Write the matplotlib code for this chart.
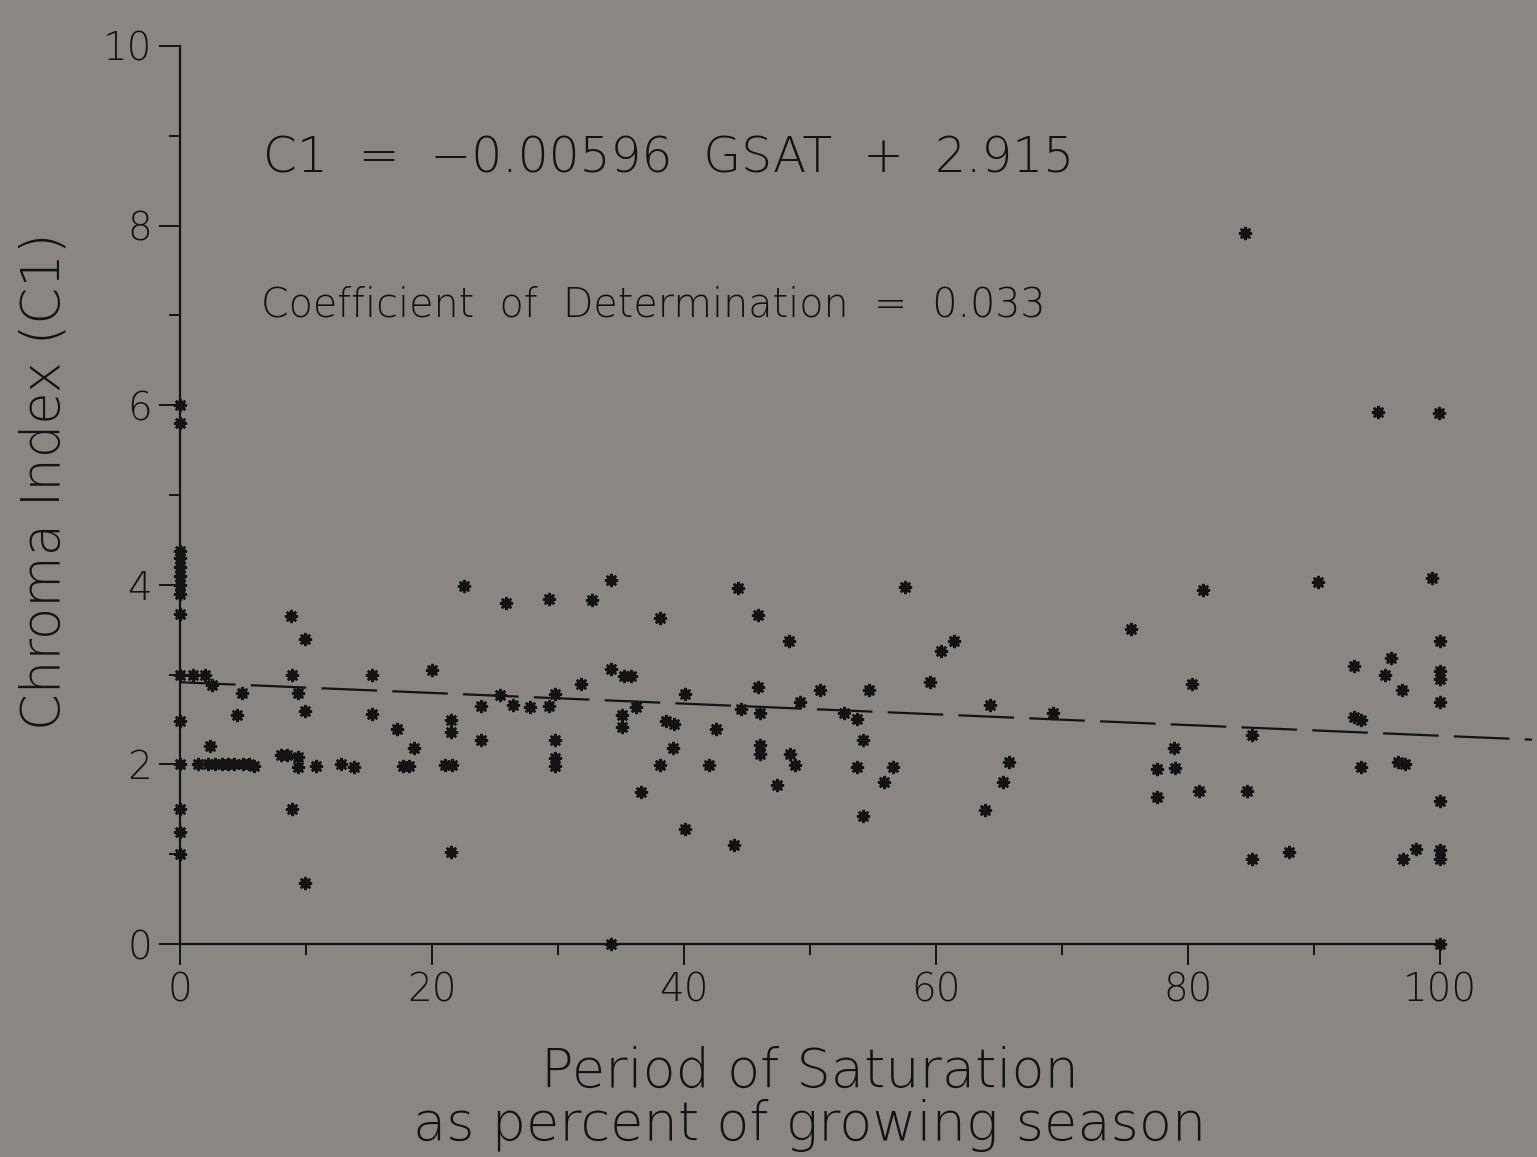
import numpy as np
import matplotlib
matplotlib.use("Agg")
import matplotlib.pyplot as plt
from matplotlib.ticker import MultipleLocator

# period of saturation (% of growing season) vs chroma index C1
gsat = [
    0, 0, 0, 0, 0, 0, 0, 0, 0, 0, 0, 0, 0, 0, 0,
    1.0, 2.0, 2.5, 4.9, 4.5, 2.4,
    1.4, 2.2, 2.8, 3.3, 3.8, 4.3, 5.0, 5.5, 5.9,
    8.0, 8.5, 8.8, 9.9, 8.9, 9.4, 9.9, 9.4, 9.4, 10.8, 12.8, 13.8, 8.9, 9.9, 15.2, 15.2,
    17.2, 18.6, 17.7, 18.2, 20.0, 21.0, 21.6, 21.5, 21.5, 21.5, 22.5, 23.9, 23.9, 25.4,
    25.9, 26.4, 27.8, 29.3, 29.3, 29.8, 29.8, 29.8, 29.8,
    31.8, 32.7, 34.2, 34.2, 35.2, 35.8, 36.2, 35.1, 35.1, 36.6, 38.1, 38.6, 39.2, 39.1,
    38.1, 40.1, 40.1, 34.2,
    42.0, 42.5, 44.0, 44.3, 44.5, 45.9, 45.9, 46.0, 46.0, 46.0, 47.4, 48.3, 48.4, 48.8,
    49.2, 50.8, 52.7, 53.7, 53.7, 54.2, 54.2, 54.7, 55.9, 56.6, 57.5,
    59.5, 60.4, 61.4, 63.9, 64.3, 65.3, 65.8, 69.3,
    75.5, 77.5, 77.5, 78.9, 79.0, 80.3, 80.9, 81.2, 84.5, 84.7, 85.1, 85.1, 88.0, 90.3,
    93.2, 93.2, 93.7, 93.7, 95.1, 95.6, 96.1, 96.7, 97.2, 97.0, 97.1, 98.1, 99.4, 99.9,
    100, 100, 100, 100, 100, 100, 100, 100,
]
chroma = [
    6.0, 5.8, 4.38, 4.3, 4.2, 4.1, 4.0, 3.9, 3.68, 3.0, 2.48, 2.0, 1.5, 1.25, 1.0,
    3.0, 3.0, 2.88, 2.8, 2.55, 2.2,
    2.0, 2.0, 2.0, 2.0, 2.0, 2.0, 2.0, 2.0, 1.98,
    2.1, 2.1, 3.65, 3.4, 3.0, 2.8, 2.6, 2.08, 1.97, 1.98, 2.0, 1.97, 1.5, 0.68, 3.0, 2.56,
    2.39, 2.18, 1.98, 1.98, 3.05, 1.99, 1.99, 2.49, 2.36, 1.02, 3.99, 2.65, 2.27, 2.77,
    3.8, 2.66, 2.64, 2.65, 3.84, 2.78, 2.27, 2.07, 1.98,
    2.89, 3.83, 4.05, 3.06, 2.98, 2.98, 2.64, 2.55, 2.42, 1.69, 3.63, 2.48, 2.45, 2.18,
    1.99, 2.78, 1.28, 0.0,
    1.99, 2.39, 1.1, 3.96, 2.62, 3.66, 2.86, 2.57, 2.22, 2.12, 1.77, 3.37, 2.12, 1.99,
    2.7, 2.83, 2.57, 2.51, 1.97, 2.27, 1.42, 2.83, 1.8, 1.97, 3.97,
    2.92, 3.26, 3.37, 1.49, 2.66, 1.8, 2.03, 2.57,
    3.51, 1.95, 1.64, 2.18, 1.96, 2.9, 1.70, 3.94, 7.92, 1.70, 2.33, 0.95, 1.02, 4.03,
    3.1, 2.53, 2.5, 1.97, 5.92, 3.0, 3.18, 2.03, 2.0, 2.83, 0.95, 1.06, 4.08, 5.91,
    3.37, 3.04, 2.95, 2.70, 1.59, 1.05, 0.95, 0.0,
]

# regression C1 = -0.00596 GSAT + 2.915
slope = -0.00596
intercept = 2.915
fit_x = [0, 107.3]

bg = "#8a8782"
ink = "#131313"
plt.rcParams["font.family"] = ["DejaVu Sans"]
plt.rcParams["font.weight"] = "light"
plt.rcParams["lines.scale_dashes"] = False

fig = plt.figure(figsize=(15.37, 11.57), dpi=100, facecolor=bg)
ax = fig.add_axes([180 / 1537, 1 - 944 / 1157, 1260 / 1537, 898 / 1157])
ax.set_facecolor(bg)

fit_y = [slope * v + intercept for v in fit_x]
ax.plot(fit_x, fit_y, color=ink, lw=1.6, dashes=(40, 11), clip_on=False)

ax.plot(gsat, chroma, ls="none", marker="s", ms=5.5, color=ink, clip_on=False)
ax.plot(gsat, chroma, ls="none", marker=(8, 2, 0), ms=9.5, mew=1.6, color=ink,
        clip_on=False)

ax.set_xlim(0, 100)
ax.set_ylim(0, 10)
for s in ["top", "right"]:
    ax.spines[s].set_visible(False)
for s in ["left", "bottom"]:
    ax.spines[s].set_color(ink)
    ax.spines[s].set_linewidth(1.6)

ax.xaxis.set_major_locator(MultipleLocator(20))
ax.xaxis.set_minor_locator(MultipleLocator(10))
ax.yaxis.set_major_locator(MultipleLocator(2))
ax.yaxis.set_minor_locator(MultipleLocator(1))
ax.tick_params(which="major", length=15, width=1.4, color=ink, labelcolor=ink,
               labelsize=28, pad=5)
ax.tick_params(which="minor", length=8, width=1.4, color=ink)

ax.set_xlabel("Period of Saturation\nas percent of growing season",
              fontsize=39, fontweight="light", color=ink, labelpad=26, linespacing=1.0)
ax.set_ylabel("Chroma Index (C1)", fontsize=38, fontweight="light", color=ink)
ax.yaxis.set_label_coords(-0.086, 0.515)

ax.text(0.066, 0.875, "C1  =  \u22120.00596  GSAT  +  2.915", transform=ax.transAxes,
        fontsize=35, color=ink, va="center")
ax.text(0.064, 0.712, "Coefficient  of  Determination  =  0.033", transform=ax.transAxes,
        fontsize=28.5, color=ink, va="center")

fig.savefig("out.png", dpi=100, facecolor=bg)
